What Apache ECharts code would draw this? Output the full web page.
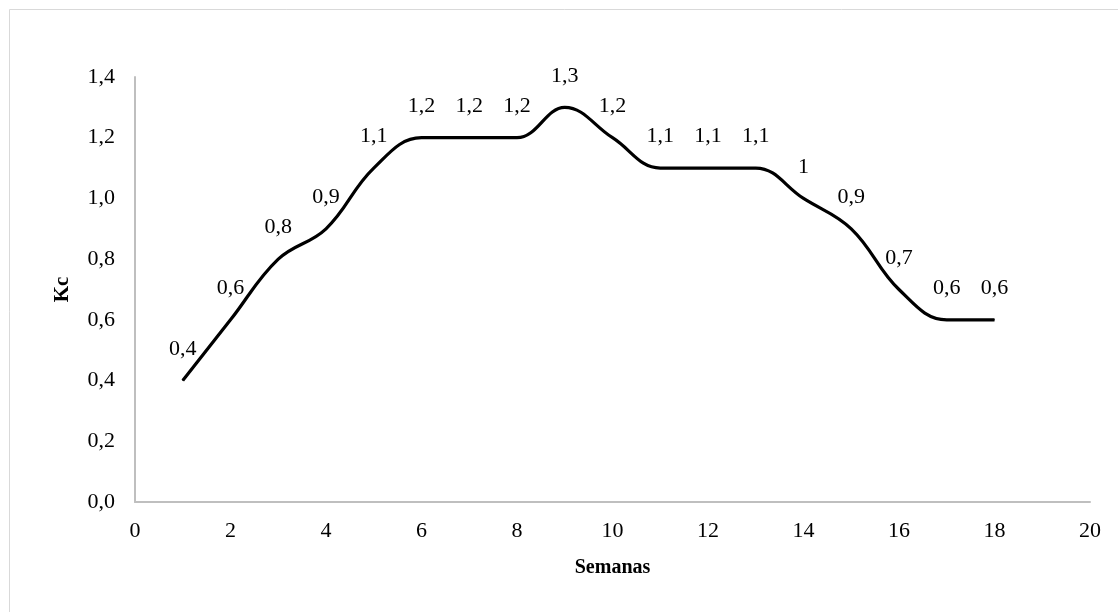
<!DOCTYPE html>
<html>
<head>
<meta charset="utf-8">
<script src="https://cdn.jsdelivr.net/npm/echarts@6/dist/echarts.min.js"></script>
<style>
  html, body { margin: 0; padding: 0; background: #fff; }
  #chart { width: 1118px; height: 612px; }
</style>
</head>
<body>
<div id="chart"></div>
<script>
// Crop coefficient (Kc) per week
const semanas = [1, 2, 3, 4, 5, 6, 7, 8, 9, 10, 11, 12, 13, 14, 15, 16, 17, 18];
const kc = [0.4, 0.6, 0.8, 0.9, 1.1, 1.2, 1.2, 1.2, 1.3, 1.2, 1.1, 1.1, 1.1, 1, 0.9, 0.7, 0.6, 0.6];
const xTicks = { min: 0, max: 20, interval: 2 };
const yTicks = { min: 0, max: 1.4, interval: 0.2 };

const FONT = '"Liberation Serif", "Times New Roman", serif';
const comma = v => String(v).replace('.', ',');

const chart = echarts.init(document.getElementById('chart'), null, { renderer: 'canvas' });

chart.setOption({
  backgroundColor: '#ffffff',
  animation: false,
  graphic: [{
    type: 'rect',
    shape: { x: 9.5, y: 9.5, width: 1130, height: 640 },
    style: { fill: 'none', stroke: '#d9d9d9', lineWidth: 1 },
    silent: true
  }],
  grid: { left: 135, right: 28, top: 77, bottom: 110 },
  xAxis: {
    type: 'value',
    min: xTicks.min, max: xTicks.max, interval: xTicks.interval,
    name: 'Semanas',
    nameLocation: 'middle',
    nameGap: 56,
    nameTextStyle: { fontFamily: FONT, fontSize: 20, fontWeight: 'bold', color: '#000' },
    axisLine: { lineStyle: { color: '#bfbfbf', width: 2 } },
    axisTick: { show: false },
    splitLine: { show: false },
    axisLabel: { fontFamily: FONT, fontSize: 22, color: '#000', margin: 18 }
  },
  yAxis: {
    type: 'value',
    min: yTicks.min, max: yTicks.max, interval: yTicks.interval,
    name: 'Kc',
    nameLocation: 'middle',
    nameGap: 62,
    nameRotate: 90,
    nameTextStyle: { fontFamily: FONT, fontSize: 21, fontWeight: 'bold', color: '#000' },
    axisLine: { show: true, lineStyle: { color: '#bfbfbf', width: 2 } },
    axisTick: { show: false },
    splitLine: { show: false },
    axisLabel: {
      fontFamily: FONT, fontSize: 22, color: '#000', margin: 20,
      formatter: v => v.toFixed(1).replace('.', ',')
    }
  },
  series: [{
    type: 'line',
    data: semanas.map((s, i) => [s, kc[i]]),
    smooth: 0.4,
    showSymbol: true,
    symbol: 'circle',
    symbolSize: 1,
    itemStyle: { color: '#000' },
    lineStyle: { color: '#000', width: 3.2 },
    label: {
      show: true,
      position: 'top',
      distance: 20,
      fontFamily: FONT,
      fontSize: 22,
      color: '#000',
      formatter: p => comma(p.value[1])
    }
  }]
});
</script>
</body>
</html>
